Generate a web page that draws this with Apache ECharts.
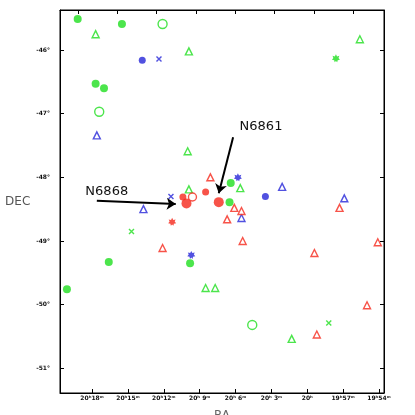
<!DOCTYPE html>
<html>
<head>
<meta charset="utf-8">
<script src="https://cdn.jsdelivr.net/npm/echarts@6/dist/echarts.min.js"></script>
<style>
  html, body { margin: 0; padding: 0; background: #fff; }
  #chart { width: 415px; height: 415px; }
</style>
</head>
<body>
<div id="chart"></div>
<script>
// RA in minutes of time (20h18m = 1218), DEC in degrees
var raTicks = [1194, 1197, 1200, 1203, 1206, 1209, 1212, 1215, 1218];
var raTopTicks = [1197, 1200, 1203, 1206, 1209, 1212, 1215, 1218];
var decTicks = [-51, -50, -49, -48, -47, -46];

var greenDots = [[1219.2, -45.51], [1215.5, -45.59], [1217.7, -46.53], [1217.0, -46.60],
  [1206.4, -48.09], [1206.5, -48.39], [1209.8, -49.35], [1216.6, -49.33], [1220.1, -49.76]];
var greenStars = [[1197.6, -46.13]];
var greenRings = [[1212.1, -45.59], [1217.4, -46.97], [1204.6, -50.32]];
var greenTriangles = [[1217.7, -45.75], [1209.9, -46.02], [1210.0, -47.59], [1209.9, -48.19],
  [1205.6, -48.17], [1195.6, -45.83], [1208.5, -49.74], [1207.7, -49.74], [1201.3, -50.54]];
var greenCrosses = [[1214.7, -48.85], [1198.2, -50.29]];

var blueDots = [[1213.8, -46.16], [1203.5, -48.30]];
var blueStars = [[1205.8, -48.00], [1209.7, -49.22]];
var blueCrosses = [[1212.4, -46.14], [1211.4, -48.30]];
var blueTriangles = [[1217.6, -47.34], [1213.7, -48.50], [1202.1, -48.15], [1196.9, -48.33], [1205.5, -48.64]];

var redDots = [[1208.5, -48.23], [1210.4, -48.31]];
var redBigDots = [[1207.4, -48.39], [1210.1, -48.41]];
var redStars = [[1211.3, -48.70]];
var redRings = [[1209.6, -48.31]];
var redTriangles = [[1208.1, -48.00], [1206.1, -48.48], [1205.5, -48.53], [1206.7, -48.66],
  [1205.4, -49.00], [1212.1, -49.11], [1197.3, -48.48], [1194.1, -49.02], [1199.4, -49.19],
  [1195.0, -50.01], [1199.2, -50.47]];

// cluster names and arrows: label position, arrow start, arrow end
var clusters = [
  { name: 'N6868', text: [1218.6, -48.22], from: [1217.6, -48.37], to: [1211.0, -48.42] },
  { name: 'N6861', text: [1205.7, -47.20], from: [1206.2, -47.37], to: [1207.4, -48.25] }
];

var GREEN = '#1fdf1f', BLUE = '#2626d8', RED = '#f5281c';
var CROSS = 'path://M0,0L10,10M10,0L0,10';
var STAR = 'path://M5,0L6.4,2.6L9.3,1.9L8.2,4.6L10,6.6L7.2,7.3L6.6,10L5,8.3L3.4,10L2.8,7.3L0,6.6L1.8,4.6L0.7,1.9L3.6,2.6Z';

function raLabel(v) {
  var h = Math.floor(v / 60), m = Math.round(v - h * 60);
  if (m === 0) return h + 'ʰ';
  return h + 'ʰ' + (m < 10 ? ' ' + m : m) + 'ᵐ';
}

function filled(data, color, size, symbol) {
  return { type: 'scatter', data: data, symbol: symbol || 'circle', symbolSize: size,
    itemStyle: { color: color }, silent: true };
}
function hollow(data, color, size, symbol) {
  return { type: 'scatter', data: data, symbol: symbol, symbolSize: size,
    itemStyle: { color: symbol === CROSS ? 'none' : '#fff', borderColor: color, borderWidth: 1.4 }, silent: true };
}

var chart = echarts.init(document.getElementById('chart'));
var tinyLabel = { color: '#111', fontSize: 6, fontWeight: 'bold', fontFamily: 'DejaVu Sans' };

var option = {
  animation: false,
  grid: { left: 60, right: 31, top: 10, bottom: 22, outerBoundsMode: 'none',
    show: true, borderColor: '#000', borderWidth: 1 },
  xAxis: [{
    type: 'value', inverse: true, min: 1193.58, max: 1220.68, position: 'bottom',
    name: 'RA', nameLocation: 'middle', nameGap: 17,
    nameTextStyle: { color: '#666', fontSize: 12, fontFamily: 'DejaVu Sans' },
    axisLine: { show: true, lineStyle: { color: '#000' } },
    axisTick: { show: true, inside: true, length: 4, customValues: raTicks, lineStyle: { color: '#000' } },
    axisLabel: Object.assign({ margin: 2, customValues: raTicks, formatter: raLabel }, tinyLabel),
    splitLine: { show: false }
  }, {
    type: 'value', inverse: true, min: 1194.64, max: 1219.37, position: 'top',
    axisLine: { show: true, lineStyle: { color: '#000' } },
    axisTick: { show: true, inside: true, length: 4, customValues: raTopTicks, lineStyle: { color: '#000' } },
    axisLabel: { show: false },
    splitLine: { show: false }
  }],
  yAxis: [{
    type: 'value', min: -51.39, max: -45.37, position: 'left',
    name: 'DEC', nameLocation: 'middle', nameRotate: 0, nameGap: 27,
    nameTextStyle: { color: '#555', fontSize: 12, fontFamily: 'DejaVu Sans' },
    axisLine: { show: true, lineStyle: { color: '#000' } },
    axisTick: { show: true, inside: true, length: 4, customValues: decTicks, lineStyle: { color: '#000' } },
    axisLabel: Object.assign({ margin: 10, customValues: decTicks, formatter: function (v) { return v + '°'; } }, tinyLabel),
    splitLine: { show: false }
  }, {
    type: 'value', min: -51.39, max: -45.37, position: 'right',
    axisLine: { show: true, lineStyle: { color: '#000' } },
    axisTick: { show: true, inside: true, length: 4, customValues: decTicks, lineStyle: { color: '#000' } },
    axisLabel: { show: false },
    splitLine: { show: false }
  }],
  series: [
    hollow(greenTriangles, GREEN, 7, 'triangle'),
    hollow(blueTriangles, BLUE, 7, 'triangle'),
    hollow(redTriangles, RED, 7, 'triangle'),
    hollow(greenCrosses, GREEN, 5, CROSS),
    hollow(blueCrosses, BLUE, 5, CROSS),
    hollow(greenRings, GREEN, 9, 'circle'),
    filled(greenDots, GREEN, 8),
    filled(greenStars, GREEN, 8, STAR),
    filled(blueDots, BLUE, 7),
    filled(blueStars, BLUE, 8, STAR),
    filled(redDots, RED, 7),
    filled(redBigDots, RED, 10),
    filled(redStars, RED, 8, STAR),
    hollow(redRings, RED, 8, 'circle'),
    {
      type: 'scatter', data: [], silent: true,
      markLine: {
        silent: true, symbol: ['none', 'arrow'], symbolSize: 9,
        lineStyle: { color: '#000', width: 2, type: 'solid' },
        label: { show: false },
        data: clusters.map(function (c) { return [{ coord: c.from }, { coord: c.to }]; })
      },
      markPoint: {
        silent: true, symbol: 'circle', symbolSize: 1,
        itemStyle: { color: 'rgba(0,0,0,0)' },
        label: { show: true, position: 'right', distance: 0, formatter: '{b}',
          color: '#111', fontSize: 13, fontFamily: 'DejaVu Sans' },
        data: clusters.map(function (c) { return { name: c.name, coord: c.text }; })
      }
    }
  ]
};
chart.setOption(option);
</script>
</body>
</html>
